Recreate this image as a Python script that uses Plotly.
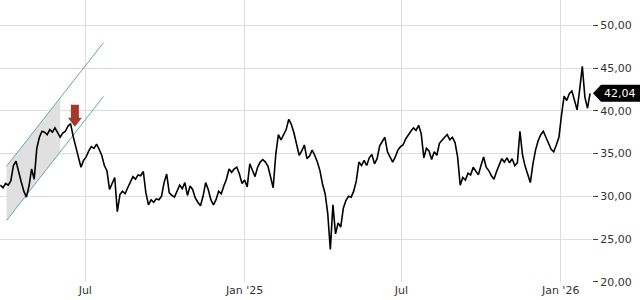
import numpy as np
import pandas as pd
import plotly.graph_objects as go

# ---- data ----
start_date = "2024-03-25"
step_days = 3
close = [
    31.3, 31.0, 31.5, 31.3, 31.8, 33.6, 34.1, 32.8, 31.7, 30.6,
    29.9, 31.2, 33.2, 32.0, 35.6, 36.9, 37.6, 37.5, 37.2, 37.8,
    37.5, 38.0, 37.4, 36.9, 37.4, 37.6, 38.2, 38.5, 37.0, 35.9,
    34.6, 33.4, 34.2, 34.6, 35.3, 35.8, 35.6, 36.1, 35.5, 34.8,
    33.6, 33.0, 30.8, 31.6, 32.2, 28.2, 30.2, 30.6, 30.3, 31.0,
    31.6, 32.3, 32.0, 32.5, 32.4, 32.9, 30.4, 29.0, 29.6, 29.3,
    29.7, 29.6, 30.0, 31.6, 32.6, 30.4, 30.1, 29.9, 30.6, 31.3,
    30.9, 31.6, 30.1, 31.2, 30.8, 29.8, 29.3, 28.9, 30.0, 31.6,
    30.8, 29.6, 29.0, 29.6, 30.6, 30.3, 31.2, 32.0, 33.2, 32.8,
    33.2, 33.4, 32.6, 31.5, 31.9, 31.1, 33.8, 33.0, 32.3, 33.4,
    34.0, 34.3, 34.0, 33.5, 32.2, 31.0, 34.9, 37.2, 36.6, 37.3,
    37.8, 39.0, 38.4, 37.4, 35.9, 34.8, 35.3, 36.0, 34.4, 34.7,
    35.4, 34.8, 34.0, 33.0, 31.4, 30.3, 28.0, 23.8, 29.0, 25.6,
    26.9, 26.4, 28.6, 29.5, 30.0, 29.9, 30.6, 31.8, 34.0, 33.6,
    34.2, 33.6, 34.5, 34.9, 33.8, 34.4, 35.9, 36.4, 36.9, 35.2,
    34.6, 34.0, 34.6, 35.4, 35.8, 36.0, 36.7, 37.2, 37.6, 38.0,
    37.7, 38.3, 37.3, 34.5, 35.6, 35.3, 34.3, 35.2, 34.8, 36.2,
    36.6, 36.9, 37.2, 36.6, 36.9, 36.3, 34.6, 31.3, 32.2, 31.9,
    32.7, 32.5, 33.4, 33.0, 32.5, 33.6, 34.6, 33.4, 33.0, 32.4,
    32.0, 32.9, 33.6, 34.4, 34.0, 34.5, 33.9, 34.4, 33.6, 33.9,
    37.6, 34.8, 33.5, 32.6, 31.6, 33.8, 35.4, 36.5, 37.2, 37.6,
    36.8, 36.2, 35.5, 35.2, 36.0, 36.9, 39.5, 41.7, 41.2, 42.0,
    42.3, 41.2, 40.1, 42.5, 45.2, 41.6, 40.3, 42.04,
]

tick_dates = ["2024-07-01", "2025-01-01", "2025-07-01", "2026-01-01"]
tick_text = ["Jul", "Jan '25", "Jul", "Jan '26"]
y_ticks = [20, 25, 30, 35, 40, 45, 50]
x_range = ["2024-03-24 12:00", "2026-02-06 05:00"]
y_range = [19.98, 52.95]

channel_dates = ["2024-04-01", "2024-07-22"]
channel_upper = [33.5, 47.97]
channel_lower = [27.16, 41.67]
shade_end = "2024-06-02"

signal_date = "2024-06-19"
signal_price = 38.13

last_price = 42.04
last_label = "42,04"

# ---- derived ----
dates = pd.date_range(start_date, periods=len(close), freq=f"{step_days}D")

ct = pd.to_datetime(channel_dates).astype("int64").to_numpy()
st = pd.Timestamp(shade_end).value
u_end = float(np.interp(st, ct, channel_upper))
l_end = float(np.interp(st, ct, channel_lower))

FONT = "DejaVu Sans"
TEAL = "#62a8b1"

fig = go.Figure()

# shaded channel region
fig.add_trace(go.Scatter(
    x=[channel_dates[0], shade_end, shade_end, channel_dates[0], channel_dates[0]],
    y=[channel_upper[0], u_end, l_end, channel_lower[0], channel_upper[0]],
    mode="lines", fill="toself", fillcolor="#e0e0e0",
    line=dict(width=0), hoverinfo="skip"))

# channel lines
for vals in (channel_upper, channel_lower):
    fig.add_trace(go.Scatter(
        x=channel_dates, y=vals, mode="lines",
        line=dict(color=TEAL, width=1), hoverinfo="skip"))

# price
fig.add_trace(go.Scatter(
    x=dates, y=close, mode="lines",
    line=dict(color="#000000", width=1.6)))

y_frac = (last_price - y_range[0]) / (y_range[1] - y_range[0])

fig.update_layout(
    width=640, height=300, autosize=False,
    margin=dict(l=0, r=48, t=0, b=18, pad=0),
    paper_bgcolor="white", plot_bgcolor="white",
    showlegend=False,
    separators=",.",
    font=dict(family=FONT, size=11, color="#333333"),
    xaxis=dict(
        type="date", range=x_range,
        tickvals=tick_dates, ticktext=tick_text,
        showgrid=True, gridcolor="#dddddd", gridwidth=1,
        zeroline=False, showline=False, ticks="",
        tickfont=dict(family=FONT, size=11, color="#333333"),
    ),
    yaxis=dict(
        side="right", range=y_range,
        tickvals=y_ticks, tickformat=".2f",
        showgrid=True, gridcolor="#dddddd", gridwidth=1,
        zeroline=False, showline=False,
        ticks="outside", ticklen=5, tickwidth=1, tickcolor="#444444",
        tickfont=dict(family=FONT, size=11, color="#333333"),
    ),
    shapes=[
        dict(type="path", xref="x", yref="y",
             xsizemode="pixel", ysizemode="pixel",
             xanchor=signal_date, yanchor=signal_price,
             path="M0,0 L-7,9 L-4,9 L-4,22 L4,22 L4,9 L7,9 Z",
             fillcolor="#a5372f", line=dict(width=0), layer="above"),
        dict(type="path", xref="paper", yref="paper",
             xsizemode="pixel", ysizemode="pixel",
             xanchor=1, yanchor=y_frac,
             path="M1,0 L9,8.5 L50,8.5 L50,-8.5 L9,-8.5 Z",
             fillcolor="#000000", line=dict(width=0), layer="above"),
    ],
    annotations=[
        dict(xref="paper", x=1, xanchor="left", xshift=10,
             yref="y", y=last_price, yanchor="middle",
             text=last_label, showarrow=False,
             font=dict(family=FONT, size=11, color="white")),
    ],
)

fig.write_html("out.html", config={"displayModeBar": False})
